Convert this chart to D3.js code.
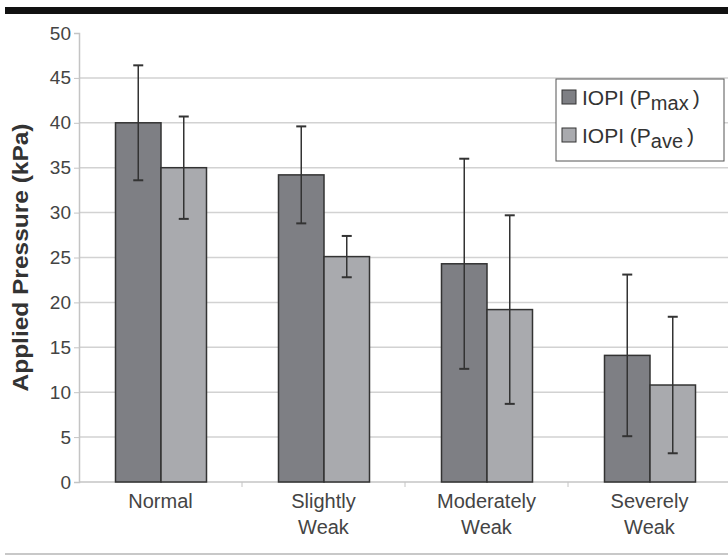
<!DOCTYPE html>
<html>
<head>
<meta charset="utf-8">
<script src="https://cdn.jsdelivr.net/npm/d3@7"></script>
<style>
  body { margin: 0; background: #fff; }
  text { font-family: "Liberation Sans", Arial, sans-serif; }
</style>
</head>
<body>
<div id="chart"></div>
<script>
// data
const categories = [["Normal"], ["Slightly", "Weak"], ["Moderately", "Weak"], ["Severely", "Weak"]];
const series = ["Pmax", "Pave"];
const pmax = [40.0, 34.2, 24.3, 14.1];
const pmaxErr = [6.4, 5.4, 11.7, 9.0];
const pave = [35.0, 25.1, 19.2, 10.8];
const paveErr = [5.7, 2.3, 10.5, 7.6];
const yTicks = [0, 5, 10, 15, 20, 25, 30, 35, 40, 45, 50];

const width = 728;
const height = 557;
const colors = {Pmax: "#7e7f84", Pave: "#a9aaae"};

const rows = categories.map((c, i) => ({
    key: c.join(" "),
    lines: c,
    values: [
        {key: "Pmax", value: pmax[i], err: pmaxErr[i]},
        {key: "Pave", value: pave[i], err: paveErr[i]}
    ]
}));

const svg = d3.select("#chart")
    .append("svg")
        .attr("width", width)
        .attr("height", height);

// frame lines of the figure
svg.append("rect")
    .attr("x", 5).attr("y", 7)
    .attr("width", width - 5).attr("height", 7)
    .attr("fill", "#111");
svg.append("line")
    .attr("x1", 5).attr("x2", width)
    .attr("y1", 554).attr("y2", 554)
    .attr("stroke", "#c8c8c8").attr("stroke-width", 2);

// scales
const x = d3.scaleBand()
    .domain(rows.map(d => d.key))
    .range([79, 731]);

const xSub = d3.scaleBand()
    .domain(series)
    .range([x.bandwidth() / 2 - 45, x.bandwidth() / 2 + 46]);

const y = d3.scaleLinear()
    .domain([0, 50])
    .range([482, 33]);

// grid lines
svg.append("g")
    .selectAll("line")
    .data(yTicks.slice(1, -1))
    .join("line")
        .attr("x1", 79).attr("x2", width)
        .attr("y1", d => y(d)).attr("y2", d => y(d))
        .attr("stroke", "#d2d2d2").attr("stroke-width", 1.5);

// y axis
const yAxis = svg.append("g")
    .attr("transform", "translate(79, 0)")
    .call(d3.axisLeft(y).tickValues(yTicks).tickSize(5).tickPadding(3));
yAxis.select(".domain").attr("stroke", "#c4c4c4").attr("stroke-width", 1.5);
yAxis.selectAll(".tick line").attr("stroke", "#c4c4c4");
yAxis.selectAll(".tick text")
    .attr("font-size", 19)
    .attr("fill", "#444")
    .attr("font-family", "Liberation Sans, Arial, sans-serif");

// x axis line with ticks between groups
svg.append("line")
    .attr("x1", 79).attr("x2", width)
    .attr("y1", y(0)).attr("y2", y(0))
    .attr("stroke", "#c4c4c4").attr("stroke-width", 1.5);
svg.append("g")
    .selectAll("line")
    .data(rows.slice(1))
    .join("line")
        .attr("x1", d => x(d.key)).attr("x2", d => x(d.key))
        .attr("y1", y(0)).attr("y2", y(0) + 5)
        .attr("stroke", "#c4c4c4");

// bars
const groups = svg.append("g")
    .selectAll("g")
    .data(rows)
    .join("g")
        .attr("transform", d => `translate(${x(d.key)}, 0)`);

groups.selectAll("rect")
    .data(d => d.values)
    .join("rect")
        .attr("x", d => xSub(d.key))
        .attr("y", d => y(d.value))
        .attr("width", xSub.bandwidth())
        .attr("height", d => y(0) - y(d.value))
        .attr("fill", d => colors[d.key])
        .attr("stroke", "#333")
        .attr("stroke-width", 1.5);

// error bars
const errs = groups.selectAll("g.err")
    .data(d => d.values)
    .join("g")
        .attr("class", "err")
        .attr("transform", d => `translate(${xSub(d.key) + xSub.bandwidth() / 2}, 0)`);

errs.append("line")
    .attr("y1", d => y(d.value + d.err))
    .attr("y2", d => y(d.value - d.err))
    .attr("stroke", "#333").attr("stroke-width", 1.5);
errs.selectAll("line.cap")
    .data(d => [d.value + d.err, d.value - d.err])
    .join("line")
        .attr("class", "cap")
        .attr("x1", -5).attr("x2", 5)
        .attr("y1", v => y(v)).attr("y2", v => y(v))
        .attr("stroke", "#333").attr("stroke-width", 2);

// category labels
groups.append("text")
    .attr("x", x.bandwidth() / 2)
    .attr("text-anchor", "middle")
    .attr("font-size", 20)
    .attr("fill", "#444")
    .selectAll("tspan")
    .data(d => d.lines.map((l, i) => ({l, i})))
    .join("tspan")
        .attr("x", x.bandwidth() / 2)
        .attr("y", d => 508 + d.i * 26)
        .text(d => d.l);

// y axis title
svg.append("text")
    .attr("transform", `translate(28, ${y(25)}) rotate(-90)`)
    .attr("text-anchor", "middle")
    .attr("font-size", 22)
    .attr("font-weight", "bold")
    .attr("fill", "#333")
    .attr("textLength", 268)
    .attr("lengthAdjust", "spacingAndGlyphs")
    .text("Applied Pressure (kPa)");

// legend
const legend = svg.append("g")
    .attr("transform", "translate(556, 79)");
legend.append("rect")
    .attr("width", 168).attr("height", 82)
    .attr("fill", "#fff")
    .attr("stroke", "#555").attr("stroke-width", 1);

const subs = ["max", "ave"];
series.forEach((s, i) => {
    const row = legend.append("g")
        .attr("transform", `translate(6, ${26 + i * 38})`);
    row.append("rect")
        .attr("x", 0).attr("y", -15)
        .attr("width", 14).attr("height", 14)
        .attr("fill", colors[s])
        .attr("stroke", "#333");
    const t = row.append("text")
        .attr("x", 20).attr("y", 0)
        .attr("font-size", 21)
        .attr("fill", "#333");
    t.append("tspan").text("IOPI (P");
    t.append("tspan").attr("dy", 5).attr("font-size", 20).text(subs[i]);
    t.append("tspan").attr("dy", -5).attr("dx", 4).text(")");
});
</script>
</body>
</html>
